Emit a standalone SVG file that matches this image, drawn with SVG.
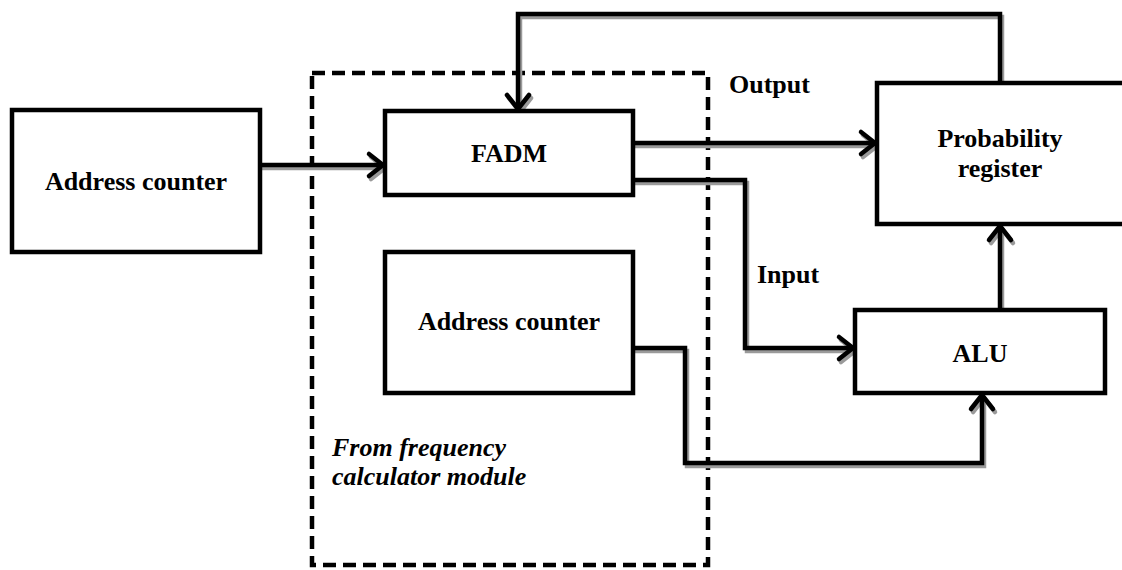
<svg xmlns="http://www.w3.org/2000/svg" width="1122" height="570" viewBox="0 0 1122 570">
<defs>
<marker id="ah" markerUnits="userSpaceOnUse" markerWidth="40" markerHeight="40" viewBox="-20 -20 40 40" refX="0" refY="0" orient="auto">
<path d="M-14,-11 L0,0 L-14,11" fill="none" stroke="#000" stroke-width="4.5" stroke-linecap="round" stroke-linejoin="miter"/>
</marker>
<marker id="ahs" markerUnits="userSpaceOnUse" markerWidth="40" markerHeight="40" viewBox="-20 -20 40 40" refX="0" refY="0" orient="auto">
<path d="M-14,-11 L0,0 L-14,11" fill="none" stroke="#9a9a9a" stroke-width="4.5" stroke-linecap="round"/>
</marker>
<style>
.box{fill:#fff;stroke:#000;stroke-width:4.5}
.lbl{font-family:"Liberation Serif","Times New Roman",serif;font-weight:bold;font-size:26px;fill:#000}
.ctr{text-anchor:middle}
.it{font-style:italic}
.c{fill:none;stroke:#000;stroke-width:4.5;stroke-linejoin:miter}
.s{fill:none;stroke:#9a9a9a;stroke-width:4.5}
.dash{fill:none;stroke:#000;stroke-width:4.5;stroke-dasharray:13 7}
</style>
</defs>
<rect width="1122" height="570" fill="#fff"/>
<g id="module-frame">
<rect class="dash" x="312" y="73" width="396" height="492"/>
<text class="lbl it" x="332" y="456">From frequency</text>
<text class="lbl it" x="332" y="485">calculator module</text>
</g>
<g id="connectors">
<g transform="translate(2,3)">
<path class="s" d="M260,165 H383" marker-end="url(#ahs)"/>
<path class="s" d="M633,143 H875" marker-end="url(#ahs)"/>
<path class="s" d="M633,180 H745 V348 H853" marker-end="url(#ahs)"/>
<path class="s" d="M633,348 H685 V463 H982 V395" marker-end="url(#ahs)"/>
<path class="s" d="M1000,310 V226" marker-end="url(#ahs)"/>
<path class="s" d="M1000,83 V14 H518 V109" marker-end="url(#ahs)"/>
</g>
<path class="c" d="M260,165 H383" marker-end="url(#ah)"/>
<path class="c" d="M633,143 H875" marker-end="url(#ah)"/>
<path class="c" d="M633,180 H745 V348 H853" marker-end="url(#ah)"/>
<path class="c" d="M633,348 H685 V463 H982 V395" marker-end="url(#ah)"/>
<path class="c" d="M1000,310 V226" marker-end="url(#ah)"/>
<path class="c" d="M1000,83 V14 H518 V109" marker-end="url(#ah)"/>
<text class="lbl" x="729" y="93">Output</text>
<text class="lbl" x="757" y="283">Input</text>
</g>
<g id="address-counter-left">
<rect class="box" x="12" y="110" width="248" height="142"/>
<text class="lbl ctr" x="136" y="190">Address counter</text>
</g>
<g id="fadm">
<rect class="box" x="385" y="111" width="248" height="84"/>
<text class="lbl ctr" x="509" y="162">FADM</text>
</g>
<g id="address-counter-inner">
<rect class="box" x="385" y="252" width="248" height="141"/>
<text class="lbl ctr" x="509" y="330">Address counter</text>
</g>
<g id="probability-register">
<rect class="box" x="877" y="83" width="260" height="141"/>
<text class="lbl ctr" x="1000" y="147">Probability</text>
<text class="lbl ctr" x="1000" y="177">register</text>
</g>
<g id="alu">
<rect class="box" x="855" y="310" width="250" height="83"/>
<text class="lbl ctr" x="980" y="362">ALU</text>
</g>
</svg>
